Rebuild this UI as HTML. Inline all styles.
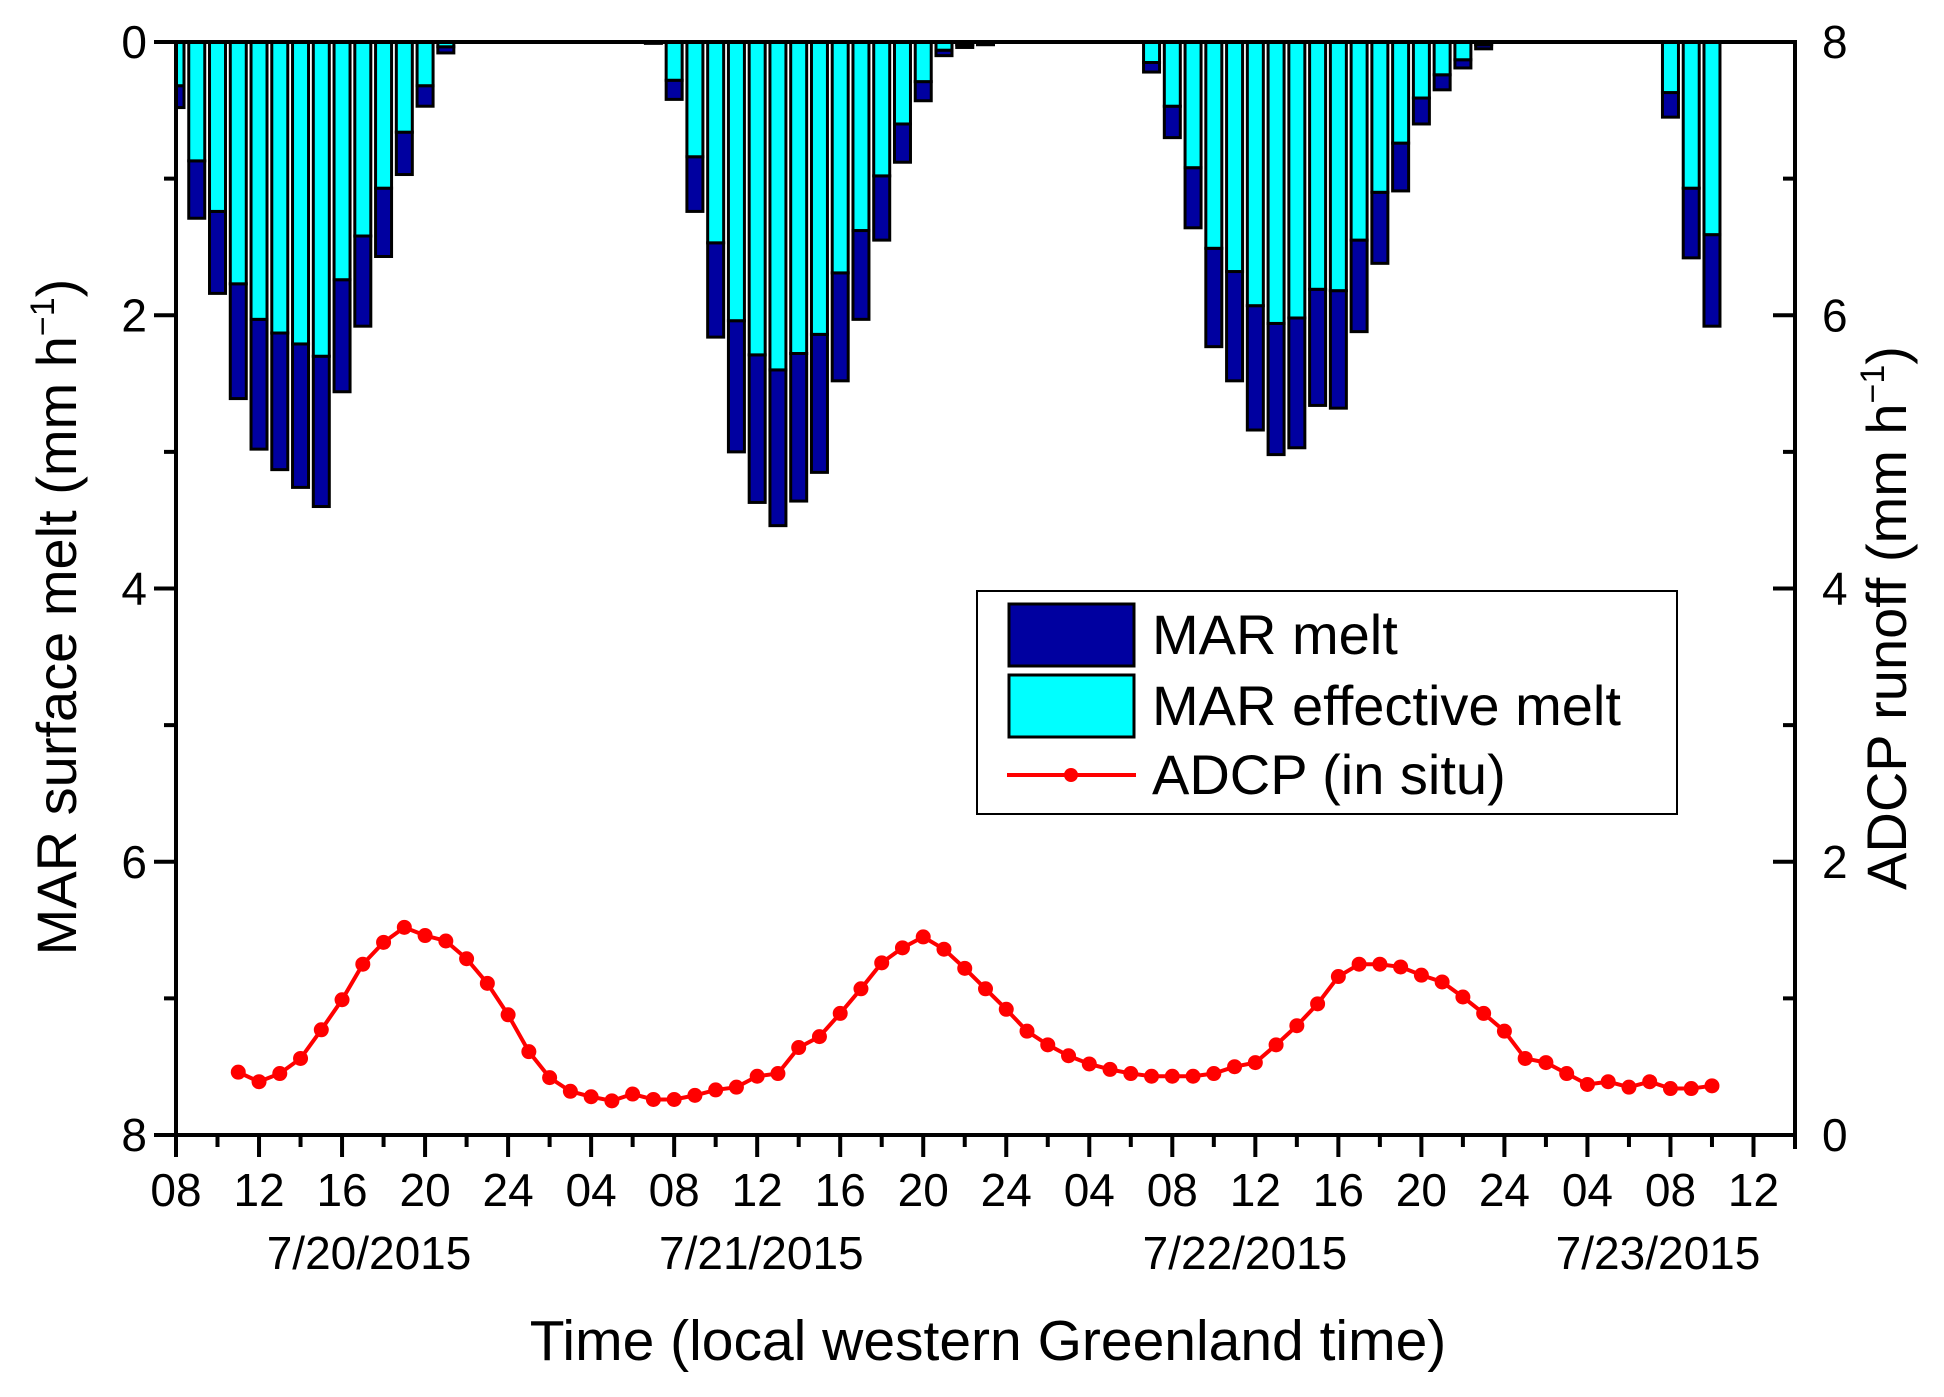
<!DOCTYPE html>
<html><head><meta charset="utf-8"><style>
html,body{margin:0;padding:0;background:#fff}
svg{display:block;font-family:"Liberation Sans",Arial,sans-serif}
</style></head><body>
<svg id="chart" width="1944" height="1397" viewBox="0 0 1944 1397" xmlns="http://www.w3.org/2000/svg">
<rect width="1944" height="1397" fill="#fff"/>
<g id="bars"></g>
<g id="line"></g>
<g id="axes"></g>
<text x="0" y="0" transform="translate(76,617) rotate(-90)" text-anchor="middle" font-size="56">MAR surface melt (mm h<tspan dy="-22" font-size="34">−1</tspan><tspan dy="22">)</tspan></text>
<text x="0" y="0" transform="translate(1906,618) rotate(-90)" text-anchor="middle" font-size="56">ADCP runoff (mm h<tspan dy="-22" font-size="34">−1</tspan><tspan dy="22">)</tspan></text>
<text x="988" y="1360" text-anchor="middle" font-size="57">Time (local western Greenland time)</text>
<g>
<rect x="977" y="591" width="700" height="223" fill="#fff" stroke="#000" stroke-width="2"/>
<rect x="1009" y="604" width="125" height="62" fill="#0000a0" stroke="#000" stroke-width="3"/>
<text x="1152" y="654" font-size="56">MAR melt</text>
<rect x="1009" y="675" width="125" height="62" fill="#00ffff" stroke="#000" stroke-width="3"/>
<text x="1152" y="725" font-size="56">MAR effective melt</text>
<line x1="1007" y1="775" x2="1136" y2="775" stroke="#ff0000" stroke-width="4"/>
<circle cx="1071" cy="775" r="7" fill="#ff0000"/>
<text x="1152" y="794" font-size="56">ADCP (in situ)</text>
</g>
</svg>
<script>
const barHours = [8,9,10,11,12,13,14,15,16,17,18,19,20,21,
  31,32,33,34,35,36,37,38,39,40,41,42,43,44,45,46,47,
  55,56,57,58,59,60,61,62,63,64,65,66,67,68,69,70,71,
  80,81,82];
const meltValues = [0.48,1.29,1.84,2.61,2.98,3.13,3.26,3.40,2.56,2.08,1.57,0.97,0.47,0.08,
  0.01,0.42,1.24,2.16,3.00,3.37,3.54,3.36,3.15,2.48,2.03,1.45,0.88,0.43,0.10,0.04,0.02,
  0.22,0.70,1.36,2.23,2.48,2.84,3.02,2.97,2.66,2.68,2.12,1.62,1.09,0.60,0.35,0.19,0.05,
  0.55,1.58,2.08];
const effectiveValues = [0.32,0.87,1.24,1.77,2.03,2.13,2.21,2.30,1.74,1.42,1.07,0.66,0.32,0.035,
  0.005,0.28,0.84,1.47,2.04,2.29,2.40,2.28,2.14,1.69,1.38,0.98,0.60,0.29,0.06,0.02,0.01,
  0.15,0.47,0.92,1.51,1.68,1.93,2.06,2.02,1.81,1.82,1.45,1.10,0.74,0.41,0.24,0.13,0.02,
  0.37,1.07,1.41];
const adcpStartHour = 11;
const adcpValues = [0.46,0.39,0.45,0.56,0.77,0.99,1.25,1.41,1.52,1.46,1.42,1.29,1.11,0.88,0.61,0.42,0.32,0.28,0.25,0.30,0.26,0.26,0.29,0.33,0.35,0.43,0.45,0.64,0.72,0.89,1.07,1.26,1.37,1.45,1.36,1.22,1.07,0.92,0.76,0.66,0.58,0.52,0.48,0.45,0.43,0.43,0.43,0.45,0.50,0.53,0.66,0.80,0.96,1.16,1.25,1.25,1.23,1.17,1.12,1.01,0.89,0.76,0.56,0.53,0.45,0.37,0.39,0.35,0.39,0.34,0.34,0.36];
const xTickLabels = ["08","12","16","20","24","04","08","12","16","20","24","04","08","12","16","20","24","04","08","12"];
const leftTickLabels = ["0","2","4","6","8"];
const rightTickLabels = ["8","6","4","2","0"];
const dateLabels = ["7/20/2015","7/21/2015","7/22/2015","7/23/2015"];
const dateHours = [17.3,36.2,59.5,79.4];

const L=176,R=1795,T=42,B=1135,H0=8,H1=86;
const x=h=>L+(h-H0)*(R-L)/(H1-H0);
const yL=v=>T+v*(B-T)/8;
const yR=v=>B-v*(B-T)/8;
const NS="http://www.w3.org/2000/svg";
function mk(tag,attrs,parent){const e=document.createElementNS(NS,tag);for(const k in attrs)e.setAttribute(k,attrs[k]);parent.appendChild(e);return e;}
const gb=document.getElementById('bars'),gl=document.getElementById('line'),ga=document.getElementById('axes');
const bw=16;
barHours.forEach((h,i)=>{
  let x0=x(h)-bw/2, x1=x(h)+bw/2; if(x0<L)x0=L;
  const a=mk('rect',{x:x0,y:yL(effectiveValues[i]),width:x1-x0,height:yL(meltValues[i])-yL(effectiveValues[i]),fill:'#0000a0',stroke:'#000','stroke-width':3},gb);
  
  
  const b=mk('rect',{x:x0,y:T,width:x1-x0,height:yL(effectiveValues[i])-T,fill:'#00ffff',stroke:'#000','stroke-width':3},gb);
  
  
});
const pts=adcpValues.map((v,i)=>x(adcpStartHour+i)+','+yR(v)).join(' ');
const pl=mk('polyline',{points:pts,fill:'none',stroke:'#ff0000','stroke-width':4},gl);


adcpValues.forEach((v,i)=>{
  const c=mk('circle',{cx:x(adcpStartHour+i),cy:yR(v),r:7.5,fill:'#ff0000'},gl);
  
  
});
const ln=(x1,y1,x2,y2,n)=>{const e=mk('line',{x1,y1,x2,y2,stroke:'#000','stroke-width':4},ga);};
ln(L-2,T,R+2,T,'top-axis-line');
ln(L,T-2,L,B+2,'left-axis-line');
ln(R,T-2,R,B+14,'right-axis-line');
ln(L-22,B,R+2,B,'x-axis-line');
for(let v=0;v<=8;v++){
  const len=v%2===0?22:12;
  ln(L-len,yL(v),L,yL(v),'left-tick');
  ln(R-len,yL(v),R,yL(v),'right-tick');
}
for(let h=8;h<=86;h+=2){
  const len=(h-8)%4===0?22:12;
  ln(x(h),B,x(h),B+len,'x-tick');
}
const txt=(s,xx,yy,anchor,size,n)=>{const e=mk('text',{x:xx,y:yy,'text-anchor':anchor,'font-size':size},ga);e.textContent=s;};
leftTickLabels.forEach((s,i)=>txt(s,147,yL(i*2)+16,'end',46,'left-tick-label'));
rightTickLabels.forEach((s,i)=>txt(s,1822,yL(i*2)+16,'start',46,'right-tick-label'));
xTickLabels.forEach((s,i)=>txt(s,x(8+i*4),1206,'middle',46,'x-tick-label'));
dateLabels.forEach((s,i)=>txt(s,x(dateHours[i]),1269,'middle',46,'date-label'));
</script>
</body></html>
